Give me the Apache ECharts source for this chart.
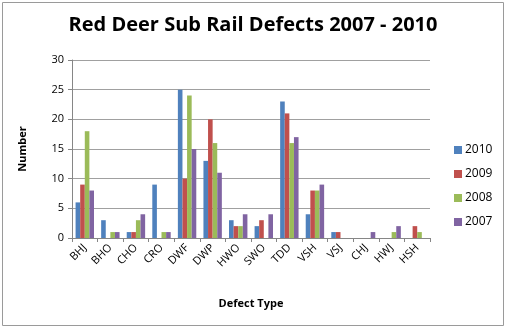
<!DOCTYPE html>
<html><head><meta charset="utf-8">
<script src="https://cdn.jsdelivr.net/npm/echarts@6/dist/echarts.min.js"></script>
<style>html,body{margin:0;padding:0;background:#fff}#c{width:506px;height:329px}</style>
</head><body><div id="c"></div>
<script>
const categories = ["BHJ","BHO","CHO","CRO","DWF","DWP","HWO","SWO","TDD","VSH","VSJ","CHJ","HWJ","HSH"];
const s2010 = [6,3,1,9,25,13,3,2,23,4,1,0,0,0];
const s2009 = [9,0,1,0,10,20,2,3,21,8,1,0,0,2];
const s2008 = [18,1,3,1,24,16,2,0,16,8,0,0,1,1];
const s2007 = [8,1,4,1,15,11,4,4,17,9,0,1,2,0];
const seriesNames = ["2010","2009","2008","2007"];
const colors = ["#4F81BD","#C0504D","#9BBB59","#8064A2"];

const font = "'Open Sans', 'Liberation Sans', sans-serif";
const chart = echarts.init(document.getElementById('c'));
const data = [s2010,s2009,s2008,s2007];
chart.setOption({
  animation:false,
  textStyle:{fontFamily:font},
  graphic:[{type:'rect',shape:{x:2.5,y:2.5,width:501,height:323},style:{fill:null,stroke:'#9a9a9a',lineWidth:1}}],
  title:{text:'Red Deer Sub Rail Defects 2007 - 2010',left:'center',top:10,
    textStyle:{fontFamily:font,fontSize:20,fontWeight:'bold',color:'#000'}},
  legend:{orient:'vertical',left:449,top:139,itemWidth:8,itemHeight:8,itemGap:12,
    icon:'rect',textStyle:{fontSize:12,color:'#000',fontFamily:font,padding:[0,0,0,-2]},data:seriesNames},
  grid:{left:72,right:76,top:60,bottom:91,containLabel:false},
  xAxis:{type:'category',data:categories,
    name:'Defect Type',nameLocation:'middle',nameGap:60,
    nameTextStyle:{fontWeight:'bold',fontSize:11,color:'#000'},
    axisLine:{lineStyle:{color:'#868686'}},
    axisTick:{show:true,alignWithLabel:false,length:4,lineStyle:{color:'#868686'}},
    axisLabel:{rotate:45,fontSize:11,color:'#000',margin:8,interval:0}},
  yAxis:{type:'value',min:0,max:30,interval:5,
    name:'Number',nameLocation:'middle',nameGap:44,nameRotate:90,
    nameTextStyle:{fontWeight:'bold',fontSize:11,color:'#000'},
    axisLine:{show:true,lineStyle:{color:'#868686'}},
    axisTick:{show:true,inside:false,length:4,lineStyle:{color:'#868686'}},
    axisLabel:{fontSize:11,color:'#000',margin:8},
    splitLine:{lineStyle:{color:'#a0a0a0'}}},
  series:seriesNames.map((n,i)=>({name:n,type:'bar',data:data[i],
    barGap:'0%',barCategoryGap:'28%',itemStyle:{color:colors[i]}}))
});
</script></body></html>
